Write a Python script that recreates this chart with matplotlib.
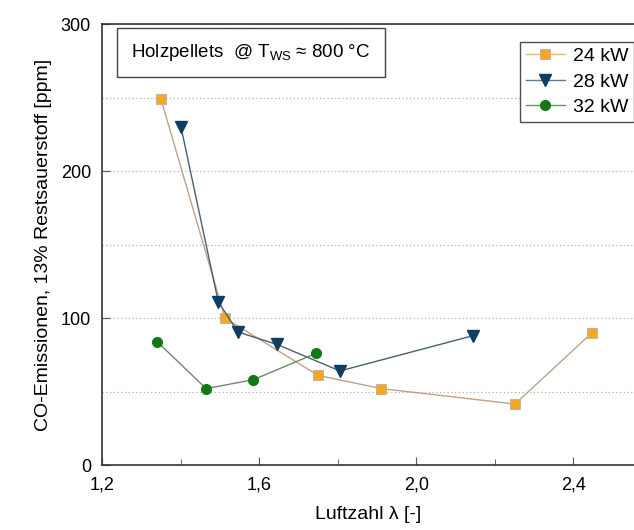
import matplotlib
matplotlib.use("Agg")
import matplotlib.pyplot as plt
from matplotlib.ticker import MultipleLocator

plt.rcParams["font.family"] = ["Liberation Sans Narrow", "Liberation Sans", "DejaVu Sans"]

# data
lam_24 = [1.350, 1.513, 1.750, 1.911, 2.252, 2.448]
co_24 = [249, 100, 61, 52, 41.5, 90]
lam_28 = [1.401, 1.496, 1.546, 1.646, 1.806, 2.145]
co_28 = [230, 111, 90.5, 82, 64, 88]
lam_32 = [1.340, 1.465, 1.585, 1.745]
co_32 = [84, 52, 58, 76]

labels = ["24 kW", "28 kW", "32 kW"]
x_ticks = [1.2, 1.6, 2.0, 2.4]
x_ticklabels = ["1,2", "1,6", "2,0", "2,4"]
y_ticks = [0, 100, 200, 300]

fig = plt.figure(figsize=(6.34, 5.30), dpi=100)
ax = fig.add_axes([0.161, 0.1226, 0.839, 0.832])

ax.plot(lam_24, co_24, color="#c0a288", lw=1.0, marker="s", ms=7,
        mfc="#f5a623", mec="#b8b0a8", mew=0.6, label=labels[0])
ax.plot(lam_28, co_28, color="#4a6070", lw=1.0, marker="v", ms=9,
        mfc="#0f3d63", mec="#0f3d63", label=labels[1])
ax.plot(lam_32, co_32, color="#6a8a6a", lw=1.0, marker="o", ms=7,
        mfc="#137a13", mec="#137a13", label=labels[2])

ax.set_xlim(1.2, 2.555)
ax.set_ylim(0, 300)
ax.set_xticks(x_ticks)
ax.set_xticklabels(x_ticklabels)
ax.xaxis.set_minor_locator(MultipleLocator(0.2))
ax.set_yticks(y_ticks)
ax.yaxis.set_minor_locator(MultipleLocator(50))
ax.tick_params(axis="both", which="major", direction="in", length=6, labelsize=13,
               color="#555555", pad=8)
ax.tick_params(axis="both", which="minor", direction="in", length=4, color="#555555")
ax.tick_params(axis="y", which="minor", length=0)

ax.grid(True, axis="y", which="both", color="#b0b0b0", ls=(0, (1, 2)), lw=0.9)
ax.set_axisbelow(True)

for s in ["left", "bottom", "top"]:
    ax.spines[s].set_color("#333333")
    ax.spines[s].set_linewidth(1.2)
ax.spines["right"].set_visible(False)

ax.set_xlabel("Luftzahl λ [-]", fontsize=14, labelpad=9)
ax.set_ylabel("CO-Emissionen, 13% Restsauerstoff [ppm]", fontsize=14, labelpad=6)

ax.text(0.055, 0.935, r"Holzpellets  @ T$_\mathregular{WS}$ ≈ 800 °C", transform=ax.transAxes,
        fontsize=13.5, ha="left", va="center",
        bbox=dict(boxstyle="square,pad=0.75", fc="white", ec="#444444", lw=1.0))

leg = ax.legend(loc="upper right", bbox_to_anchor=(1.0, 0.96), fontsize=14,
                frameon=True, fancybox=False, handlelength=2.0, handletextpad=0.4,
                borderpad=0.3, labelspacing=0.4, borderaxespad=0.0)
leg.get_frame().set_edgecolor("#222222")
leg.get_frame().set_linewidth(1.0)
leg.get_lines()[0].set_color("#f0b860")
leg.get_lines()[1].set_color("#5a7a9a")
leg.get_lines()[2].set_color("#5aa05a")

fig.savefig("out.png", dpi=100)
